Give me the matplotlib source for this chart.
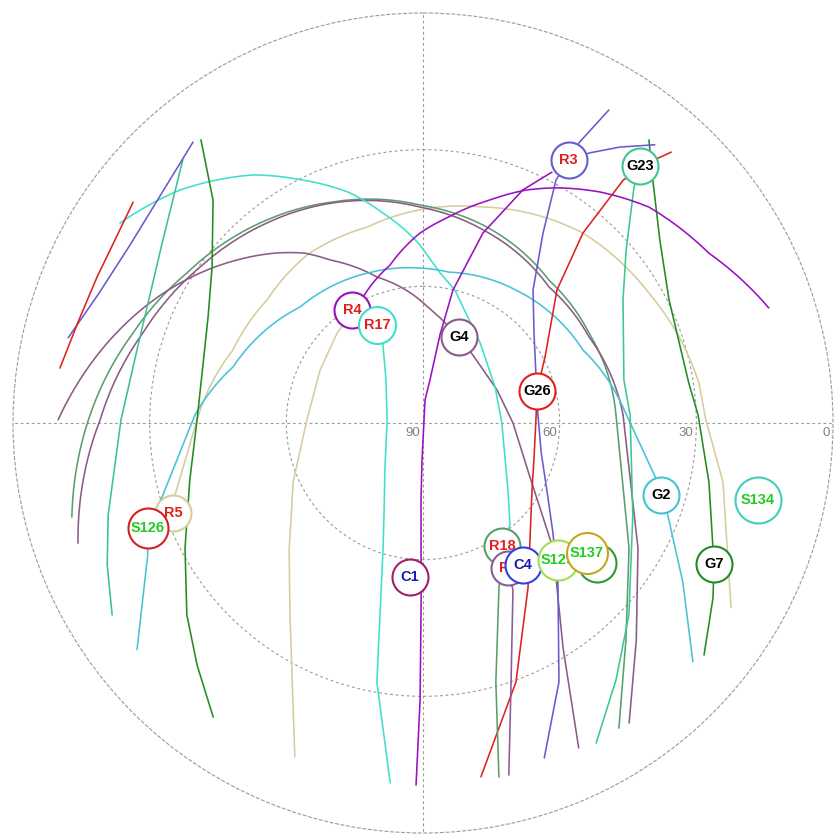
import numpy as np
import matplotlib
matplotlib.use("Agg")
import matplotlib.pyplot as plt

# ---------------- data: satellite tracks (azimuth deg, elevation deg) ----------------
trk_G2_az = [231.6, 244.4, 249.2, 254.2, 272.0, 286.4, 313.3, 339.5, 358.9, 9.8, 35.0, 65.5, 85.4, 103.3, 106.8, 110.6, 121.5, 131.5]
trk_G2_el = [9.9, 23.0, 25.2, 30.5, 39.9, 46.5, 52.9, 54.9, 56.0, 56.4, 54.4, 51.4, 46.0, 37.5, 35.4, 32.6, 23.1, 10.9]

trk_G4a_az = [270.5, 280.4, 290.1, 296.9, 303.9, 311.2, 319.35, 325.2, 330.3, 342.5, 358.6]
trk_G4a_el = [9.9, 16.1, 22.2, 26.5, 31.0, 35.7, 40.8, 44.6, 48.8, 56.4, 63.0]
trk_G4b_az = [358.6, 9.2, 22.7, 36.3, 65.96, 90.0, 116.8, 133.9, 148.1, 154.4]
trk_G4b_el = [63.0, 66.6, 69.5, 71.5, 72.2, 70.25, 63.7, 50.4, 31.8, 10.9]

trk_R3_az = [30.7, 29.1, 29.0, 28.7, 32.3, 39.6, 50.65, 66.1, 85.0, 103.8, 118.4, 130.0, 139.7, 152.3, 160.1]
trk_R3_el = [10.1, 19.6, 24.0, 29.2, 40.7, 52.1, 58.5, 62.9, 64.7, 63.3, 59.1, 52.8, 44.2, 25.8, 11.8]

trk_R3b_az = [29.0, 31.7, 35.5, 39.8]
trk_R3b_el = [24.0, 20.3, 15.6, 10.5]

trk_V1_az = [181.1, 180.6, 180.6, 181.5, 181.5, 5.0, 9.2, 10.9, 12.7, 17.5, 23.2, 27.2]
trk_V1_el = [10.5, 29.2, 51.1, 73.1, 81.9, 84.9, 80.4, 70.3, 60.1, 46.3, 34.3, 28.1]

trk_R4_az = [327.9, 334.5, 348.2, 359.1, 7.2, 16.7, 23.85, 29.5, 37.5, 46.3, 59.3, 71.6]
trk_R4_el = [60.7, 59.4, 54.6, 48.3, 44.4, 38.9, 34.1, 30.7, 26.1, 21.4, 17.0, 10.0]

trk_R17_az = [334.9, 332.85, 319.3, 274.8, 219.0, 204.1, 197.7, 190.1, 185.2]
trk_R17_el = [66.2, 70.75, 77.55, 82.1, 76.7, 69.1, 61.2, 32.25, 10.65]

trk_R5_az = [250.2, 253.8, 270.8, 291.0, 308.3, 325.4, 344.1, 359.2, 15.5, 40.1, 60.1, 81.75, 89.4, 101.1, 120.9]
trk_R5_el = [31.7, 33.3, 40.4, 45.3, 46.4, 45.2, 45.3, 43.2, 40.8, 35.5, 32.8, 28.8, 27.9, 22.9, 11.2]

trk_T2_az = [201.0, 214.7, 226.5, 245.6, 271.5, 297.2, 316.3, 322.3]
trk_T2_el = [11.5, 38.7, 49.5, 58.7, 64.5, 64.6, 62.7, 62.0]

trk_G23_az = [40.2, 41.8, 49.6, 58.4, 77.9, 87.8, 113.7, 133.0, 143.1, 151.6]
trk_G23_el = [16.2, 20.5, 31.45, 38.45, 44.9, 44.5, 39.7, 28.2, 19.45, 10.1]

trk_G7_az = [38.6, 43.8, 52.3, 63.4, 81.45, 88.3, 101.7, 115.9, 121.1, 129.55]
trk_G7_el = [10.5, 17.0, 24.3, 29.6, 31.0, 29.6, 25.9, 19.0, 15.65, 10.0]

trk_G26_az = [42.5, 41.0, 39.5, 40.1, 45.2, 61.6, 74.3, 87.0, 106.1, 121.6, 147.5, 160.25, 170.7]
trk_G26_el = [9.35, 14.1, 20.9, 35.5, 48.55, 59.55, 64.0, 65.15, 64.6, 61.9, 47.1, 29.6, 11.3]

trk_Q1a_az = [303.4, 313.8, 325.6, 333.0, 342.4, 349.2, 359.0]
trk_Q1a_el = [10.3, 16.1, 24.0, 30.0, 37.0, 43.1, 50.9]
trk_Q1b_az = [359.0, 6.5, 13.5, 35.5, 63.4, 90.0, 128.25, 139.5, 147.3]
trk_Q1b_el = [50.9, 56.85, 60.0, 68.4, 72.3, 72.7, 66.25, 60.6, 57.9]

trk_R18_az = [147.3, 155.3, 164.3, 167.9]
trk_R18_el = [57.9, 50.1, 30.9, 10.5]

trk_R2_az = [149.6, 151.7, 161.2, 166.3]
trk_R2_el = [53.1, 48.35, 30.0, 10.45]

trk_B1_az = [320.7, 311.4, 301.3, 291.9, 283.5]
trk_B1_el = [10.3, 13.6, 14.75, 13.4, 9.9]

trk_RD1_az = [307.3, 300.7, 294.1, 286.3, 278.6]
trk_RD1_el = [10.0, 11.35, 11.6, 11.1, 9.4]

trk_TG1_az = [317.6, 305.1, 284.3, 270.6, 253.7, 245.8, 238.3]
trk_TG1_el = [11.8, 20.2, 25.2, 23.7, 18.0, 14.0, 9.8]

trk_DG1_az = [321.9, 316.7, 306.5, 296.25, 270.8, 256.25, 242.3, 230.9, 223.0, 215.5]
trk_DG1_el = [11.0, 22.8, 32.4, 37.4, 40.4, 37.3, 31.0, 23.2, 17.3, 10.7]

trk_SG1_az = [255.0, 271.4, 287.2, 302.4, 322.5, 337.8, 359.2, 16.9, 41.4, 61.5, 87.6, 121.25, 136.9, 147.3]
trk_SG1_el = [10.2, 16.9, 23.35, 28.6, 33.8, 37.6, 42.15, 44.6, 48.2, 48.55, 47.6, 37.1, 24.8, 10.4]

trk_MV1_az = [250.8, 270.5, 287.8, 305.0, 322.0, 337.75, 359.2, 17.3, 42.8, 62.6, 87.7, 120.2, 135.5, 145.5]
trk_MV1_el = [9.8, 19.1, 25.4, 30.3, 34.3, 37.8, 42.6, 45.6, 49.3, 48.95, 46.05, 35.4, 23.2, 10.1]

# ---------------- data: current satellite positions ----------------
sat_names = ["R5", "S126", "R4", "R17", "G4", "R3", "G23", "G26", "G2", "S134", "G7",
             "C1", "R18", "R2", "C4", "", "S129", "S137"]
sat_az = [250.2, 249.1, 327.9, 334.9, 22.7, 29.0, 40.2, 74.3, 106.8, 102.9, 115.9,
          184.8, 147.3, 149.6, 144.8, 128.8, 135.4, 128.4]
sat_el = [31.7, 25.4, 60.7, 66.2, 69.5, 24.0, 16.2, 64.0, 35.4, 14.55, 19.0,
          56.1, 57.9, 53.1, 51.9, 41.0, 47.8, 44.05]

ring_labels = ["90", "60", "30", "0"]
ring_elev = [90, 60, 30, 0]

# ---------------- styles ----------------
C_CYAN = "#45c3d6"
C_MAUVE = "#8c5a86"
C_SLATE = "#6a5acd"
C_VIOLET = "#9a10c0"
C_TURQ = "#40e0c8"
C_TAN = "#d8cc9c"
C_MSG = "#3cc88c"
C_DKG = "#228b22"
C_RED = "#e02020"
C_SEAG = "#5a9e70"

# (az, el, colour, drawing pieces: (first index, last index, follow polar grid?))
tracks = [
    (trk_R5_az, trk_R5_el, C_TAN, [(0, 2, False), (2, 11, True), (11, 14, False)]),
    (trk_T2_az, trk_T2_el, C_TAN, None),
    (trk_SG1_az, trk_SG1_el, C_SEAG, [(0, 10, True), (10, 13, False)]),
    (trk_MV1_az, trk_MV1_el, C_MAUVE, [(0, 10, True), (10, 13, False)]),
    (trk_G4a_az, trk_G4a_el, C_MAUVE, [(0, 10, True)]),
    (trk_G4b_az, trk_G4b_el, C_MAUVE, None),
    (trk_Q1a_az, trk_Q1a_el, C_TURQ, [(0, 6, True)]),
    (trk_Q1b_az, trk_Q1b_el, C_TURQ, None),
    (trk_G2_az, trk_G2_el, C_CYAN, [(0, 4, False), (4, 12, True), (12, 17, False)]),
    (trk_TG1_az, trk_TG1_el, "#3cc096", None),
    (trk_DG1_az, trk_DG1_el, C_DKG, None),
    (trk_B1_az, trk_B1_el, C_SLATE, None),
    (trk_RD1_az, trk_RD1_el, C_RED, None),
    (trk_R17_az, trk_R17_el, C_TURQ, None),
    (trk_G23_az, trk_G23_el, C_MSG, None),
    (trk_G7_az, trk_G7_el, C_DKG, None),
    (trk_R3_az, trk_R3_el, C_SLATE, None),
    (trk_R3b_az, trk_R3b_el, C_SLATE, None),
    (trk_G26_az, trk_G26_el, C_RED, None),
    (trk_V1_az, trk_V1_el, C_VIOLET, None),
    (trk_R4_az, trk_R4_el, C_VIOLET, [(0, 11, True)]),
    (trk_R18_az, trk_R18_el, C_SEAG, None),
    (trk_R2_az, trk_R2_el, "#8c5a96", None),
]

TXT_R = "#e02020"
TXT_G = "#000000"
TXT_S = "#22cc22"
TXT_C = "#1a1ab8"
marker_style = {
    "R5": (C_TAN, TXT_R, 36), "S126": ("#d42020", TXT_S, 40), "R4": (C_VIOLET, TXT_R, 36),
    "R17": (C_TURQ, TXT_R, 37), "G4": (C_MAUVE, TXT_G, 36), "R3": (C_SLATE, TXT_R, 36),
    "G23": (C_MSG, TXT_G, 36), "G26": (C_RED, TXT_G, 36), "G2": (C_CYAN, TXT_G, 36),
    "S134": ("#40d0b8", TXT_S, 46), "G7": (C_DKG, TXT_G, 36), "C1": ("#a0206a", TXT_C, 36),
    "R18": (C_SEAG, TXT_R, 36), "R2": ("#8c5a96", TXT_R, 34), "C4": ("#3040e0", TXT_C, 36),
    "": ("#2e9a2e", TXT_S, 38), "S129": ("#a0e050", TXT_S, 40), "S137": ("#c0a820", TXT_S, 41),
}

DPI = 100
GRID_C = "#9a9a9a"
GRID_LS = (0, (2.5, 2.5))
fig = plt.figure(figsize=(8.36, 8.35), dpi=DPI)
ax = fig.add_axes([13 / 836, 2 / 835, 820 / 836, 820 / 835], projection="polar")
ax.set_theta_zero_location("N")
ax.set_theta_direction(-1)
ax.set_rlim(0, 90)
sp = ax.spines["polar"]
sp.set_linestyle(GRID_LS)
sp.set_color(GRID_C)
sp.set_linewidth(0.8)
ax.set_rgrids([30, 60], labels=[""] * 2)
ax.set_thetagrids([0, 90, 180, 270], labels=[""] * 4)
ax.grid(True, color=GRID_C, linestyle=GRID_LS, linewidth=0.8)
ax.tick_params(length=0)

for az, el, col, pieces in tracks:
    theta_all = np.unwrap(np.radians(az))
    r_all = 90 - np.asarray(el, dtype=float)
    if pieces is None:
        pieces = [(0, len(az) - 1, False)]
    for i0, i1, follow in pieces:
        line, = ax.plot(theta_all[i0:i1 + 1], r_all[i0:i1 + 1], color=col, lw=1.15,
                        zorder=3, solid_capstyle="round")
        if follow:
            line.get_path()._interpolation_steps = 40

for lab, el in zip(ring_labels, ring_elev):
    ax.annotate(lab, xy=(np.radians(90), 90 - el), xytext=(-2, -3),
                textcoords="offset points", ha="right", va="top",
                fontsize=9.5, color="#808080", family="Liberation Sans", zorder=4)

z = 10
for name, az, el in zip(sat_names, sat_az, sat_el):
    ec, tc, d = marker_style[name]
    dpt = d * 72 / DPI
    ax.scatter([np.radians(az)], [90 - el], s=dpt ** 2, facecolor="white",
               edgecolor=ec, linewidth=1.5, zorder=z)
    if name:
        ax.text(np.radians(az), 90 - el, name, ha="center", va="center",
                fontsize=10.5, fontweight="bold", color=tc,
                family="Liberation Sans", zorder=z + 0.5)
    z += 1

fig.savefig("out.png", dpi=DPI, facecolor="white")
